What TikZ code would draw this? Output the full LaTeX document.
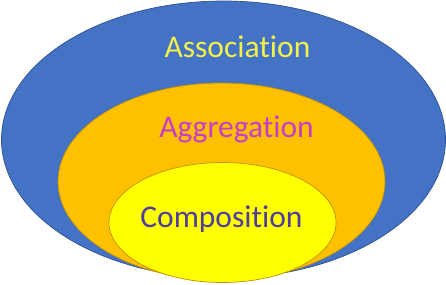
\documentclass[tikz,border=0pt]{standalone}
\usepackage{fontspec}
\setmainfont{Carlito}[Ligatures=NoCommon]
\usetikzlibrary{shapes.geometric}
\definecolor{setblue}{HTML}{4472C4}
\definecolor{setblueline}{HTML}{2F528F}
\definecolor{setorange}{HTML}{FFC000}
\definecolor{setyellow}{HTML}{FFFF00}
\definecolor{setline}{HTML}{BF9000}
\definecolor{assoctext}{HTML}{F2F24A}
\definecolor{aggrtext}{HTML}{C83CC8}
\definecolor{comptext}{HTML}{4F3C9E}
\tikzset{
  setshape/.style={ellipse, inner sep=0pt, line width=0.7pt},
  setlabel/.style={anchor=base, inner sep=0pt, font=\fontsize{31.5}{36}\selectfont}
}
\begin{document}
\begin{tikzpicture}[x=1pt, y=-1pt]
  \useasboundingbox (0,0) rectangle (446,284);
  % nested sets, outermost first
  \node[setshape, draw=setblueline, fill=setblue,
        minimum width=444pt, minimum height=277pt] (assoc) at (223.5,139.5) {};
  \node[setshape, draw=setline, fill=setorange,
        minimum width=327pt, minimum height=197pt] (aggr) at (221.5,181.5) {};
  \node[setshape, draw=setline, fill=setyellow,
        minimum width=227pt, minimum height=120pt] (comp) at (222.5,222.5) {};
  % set names
  \node[setlabel, text=assoctext] (assoclabel) at (237.5,57) {Association};
  \node[setlabel, text=aggrtext] (aggrlabel) at (236.5,137) {Aggregation};
  \node[setlabel, text=comptext] (complabel) at (221.5,227) {Composition};
\end{tikzpicture}
\end{document}
